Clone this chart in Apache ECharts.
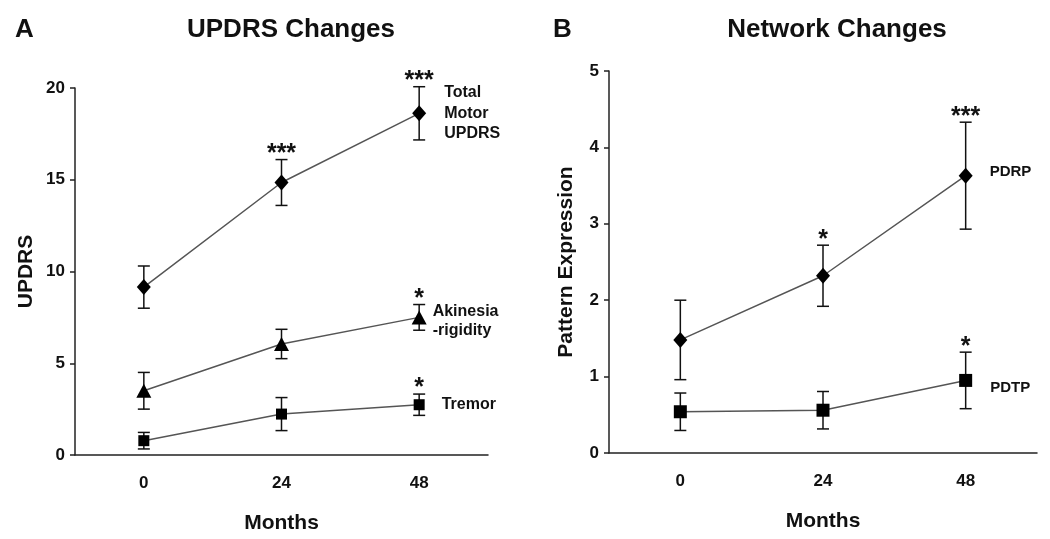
<!DOCTYPE html>
<html>
<head>
<meta charset="utf-8">
<script src="https://cdn.jsdelivr.net/npm/echarts@6/dist/echarts.min.js"></script>
<style>
html,body{margin:0;padding:0;background:#fff;}
#chart{width:1050px;height:539px;}
</style>
</head>
<body>
<div id="chart"></div>
<script>
// ---- data ----
const months = ['0', '24', '48'];
const totalMotor = [9.15, 14.85, 18.62];
const totalMotorErr = [1.15, 1.25, 1.45];
const totalMotorSig = ['', '***', '***'];
const akinesia = [3.5, 6.05, 7.5];
const akinesiaErr = [1.0, 0.8, 0.7];
const akinesiaSig = ['', '', '*'];
const tremor = [0.78, 2.23, 2.74];
const tremorErr = [0.45, 0.9, 0.58];
const tremorSig = ['', '', '*'];
const pdrp = [1.48, 2.32, 3.63];
const pdrpErr = [0.52, 0.4, 0.7];
const pdrpSig = ['', '*', '***'];
const pdtp = [0.54, 0.56, 0.95];
const pdtpErr = [0.245, 0.245, 0.37];
const pdtpSig = ['', '', '*'];

const FONT = 'Liberation Sans, Arial, sans-serif';
const INK = '#111';
const LINE = '#555';

function errSeries(axisIdx, means, errs, sig) {
  return {
    type: 'custom',
    xAxisIndex: axisIdx, yAxisIndex: axisIdx,
    z: 1,
    silent: true,
    data: means.map((m, i) => [i, m, errs[i]]),
    encode: {x: 0, y: 1},
    renderItem: function (params, api) {
      const x = api.value(0), m = api.value(1), e = api.value(2);
      const t = api.coord([x, m + e]);
      const b = api.coord([x, m - e]);
      const h = 6;
      const st = {stroke: INK, lineWidth: 1.5};
      const children = [
        {type: 'line', shape: {x1: t[0], y1: t[1], x2: b[0], y2: b[1]}, style: st},
        {type: 'line', shape: {x1: t[0] - h, y1: t[1], x2: t[0] + h, y2: t[1]}, style: st},
        {type: 'line', shape: {x1: b[0] - h, y1: b[1], x2: b[0] + h, y2: b[1]}, style: st}
      ];
      const s = sig[params.dataIndex];
      if (s) {
        children.push({type: 'text', x: t[0], y: t[1] + 7, style: {
          text: s, fill: INK, font: 'bold 25px ' + FONT, align: 'center', verticalAlign: 'bottom'
        }});
      }
      return {type: 'group', children: children};
    }
  };
}

function lineSeries(axisIdx, means, symbol, size, labelText, labelOpts) {
  return {
    type: 'line',
    xAxisIndex: axisIdx, yAxisIndex: axisIdx,
    z: 3,
    symbol: symbol,
    symbolSize: size,
    lineStyle: {color: LINE, width: 1.5},
    itemStyle: {color: '#000'},
    data: means.map((m, i) => {
      if (i === means.length - 1) {
        return {value: m, label: Object.assign({
          show: true, position: 'right', formatter: labelText,
          color: INK, fontFamily: FONT, fontWeight: 'bold', fontSize: 16, align: 'left'
        }, labelOpts)};
      }
      return m;
    }),
    animation: false
  };
}

function xAxis(gridIdx) {
  return {
    type: 'category', gridIndex: gridIdx, data: months, boundaryGap: true,
    name: 'Months', nameLocation: 'middle', nameGap: 58,
    nameTextStyle: {fontFamily: FONT, fontWeight: 'bold', fontSize: 21, color: INK},
    axisLine: {lineStyle: {color: '#222', width: 1.5}},
    axisTick: {alignWithLabel: true, length: 6, lineStyle: {color: '#222', width: 1.5}},
    axisLabel: {fontFamily: FONT, fontWeight: 'bold', fontSize: 17, color: INK, margin: 20},
    splitLine: {show: false}
  };
}

function yAxis(gridIdx, name, max, interval, gap) {
  return {
    type: 'value', gridIndex: gridIdx, min: 0, max: max, interval: interval,
    name: name, nameLocation: 'middle', nameGap: gap, nameRotate: 90,
    nameTextStyle: {fontFamily: FONT, fontWeight: 'bold', fontSize: 21, color: INK},
    axisLine: {show: true, lineStyle: {color: '#222', width: 1.5}},
    axisTick: {show: true, length: 5, lineStyle: {color: '#222', width: 1.5}},
    axisLabel: {fontFamily: FONT, fontWeight: 'bold', fontSize: 17, color: INK, margin: 10},
    splitLine: {show: false}
  };
}

const chart = echarts.init(document.getElementById('chart'), null, {renderer: 'canvas'});
chart.setOption({
  backgroundColor: '#fff',
  animation: false,
  title: [
    {text: 'UPDRS Changes', left: 286, top: 12, textAlign: 'center',
      textStyle: {fontFamily: FONT, fontWeight: 'bold', fontSize: 26, color: INK}},
    {text: 'Network Changes', left: 832, top: 12, textAlign: 'center',
      textStyle: {fontFamily: FONT, fontWeight: 'bold', fontSize: 26, color: INK}},
    {text: 'A', left: 10, top: 12,
      textStyle: {fontFamily: FONT, fontWeight: 'bold', fontSize: 26, color: INK}},
    {text: 'B', left: 548, top: 12,
      textStyle: {fontFamily: FONT, fontWeight: 'bold', fontSize: 26, color: INK}}
  ],
  grid: [
    {left: 75, right: 562, top: 88, bottom: 84},
    {left: 609, right: 13, top: 71, bottom: 86}
  ],
  xAxis: [xAxis(0), xAxis(1)],
  yAxis: [yAxis(0, 'UPDRS', 20, 5, 38), yAxis(1, 'Pattern Expression', 5, 1, 32)],
  series: [
    errSeries(0, totalMotor, totalMotorErr, totalMotorSig),
    errSeries(0, akinesia, akinesiaErr, akinesiaSig),
    errSeries(0, tremor, tremorErr, tremorSig),
    errSeries(1, pdrp, pdrpErr, pdrpSig),
    errSeries(1, pdtp, pdtpErr, pdtpSig),
    lineSeries(0, totalMotor, 'diamond', [14, 16], 'Total\nMotor\nUPDRS', {distance: 18, lineHeight: 20.5}),
    lineSeries(0, akinesia, 'triangle', [15, 14], 'Akinesia\n-rigidity', {distance: 6, lineHeight: 19, offset: [0, 4]}),
    lineSeries(0, tremor, 'rect', [11, 11], 'Tremor', {distance: 17}),
    lineSeries(1, pdrp, 'diamond', [14, 16], 'PDRP', {distance: 17, fontSize: 15, offset: [0, -4]}),
    lineSeries(1, pdtp, 'rect', [13, 13], 'PDTP', {distance: 18, fontSize: 15, offset: [0, 7]})
  ]
});
</script>
</body>
</html>
